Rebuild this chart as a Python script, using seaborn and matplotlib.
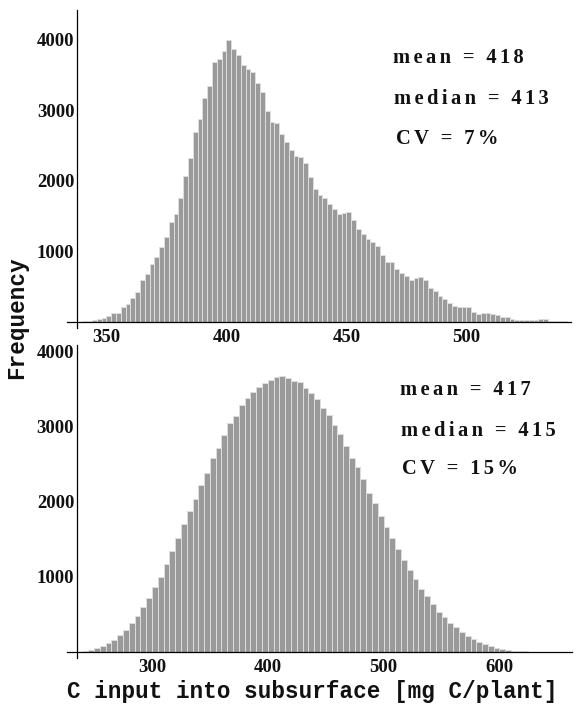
import numpy as np
import pandas as pd
import matplotlib
matplotlib.use("Agg")
import matplotlib.pyplot as plt
import seaborn as sns
from matplotlib.ticker import FixedLocator, MultipleLocator

# ---------------- data ----------------
# Top histogram: bins of width 2 starting at 340
top_bin_start = 340
top_bin_width = 2
top_counts = [5, 12, 29, 43, 52, 81, 119, 124, 205, 248,
              333, 424, 586, 676, 824, 914, 1062, 1205, 1419, 1533,
              1748, 2062, 2319, 2690, 2876, 3176, 3348, 3690, 3733, 3833,
              3990, 3867, 3790, 3648, 3590, 3548, 3381, 3262, 2990, 2833,
              2819, 2667, 2548, 2438, 2348, 2329, 2257, 2048, 1881, 1795,
              1748, 1676, 1600, 1533, 1543, 1562, 1443, 1314, 1248, 1176,
              1133, 1076, 943, 843, 848, 748, 686, 648, 590, 619,
              633, 590, 476, 429, 371, 315, 271, 219, 214, 214,
              214, 143, 105, 119, 124, 114, 95, 67, 62, 43,
              24, 24, 24, 24, 24, 33, 33, 14, 10, 10, 5]
top_stats = ["mean = 418", "median = 413", "CV = 7%"]
top_xticks = [350, 400, 450, 500]

# Bottom histogram: bins of width 5 starting at 240
bot_bin_start = 240
bot_bin_width = 5
bot_counts = [18, 31, 53, 84, 120, 164, 222, 293, 382, 476,
              600, 724, 867, 1004, 1178, 1347, 1520, 1702, 1880, 2044,
              2231, 2391, 2582, 2720, 2893, 3049, 3142, 3289, 3387, 3471,
              3533, 3591, 3631, 3667, 3680, 3653, 3618, 3595, 3515, 3449,
              3378, 3253, 3155, 3026, 2902, 2742, 2591, 2462, 2311, 2115,
              1982, 1813, 1662, 1515, 1369, 1227, 1093, 973, 844, 742,
              636, 538, 462, 387, 329, 267, 213, 169, 129, 102,
              76, 58, 36, 27, 18, 13, 9, 5]
bot_stats = ["mean = 417", "median = 415", "CV = 15%"]
bot_xticks = [300, 400, 500, 600]

yticks = [1000, 2000, 3000, 4000]
xlabel = "C input into subsurface [mg C/plant]"
ylabel = "Frequency"

# ---------------- style ----------------
sns.set_theme(style="white")
plt.rcParams["font.family"] = ["Liberation Serif", "DejaVu Serif"]
plt.rcParams["font.weight"] = "bold"

W, H = 577, 706
fig = plt.figure(figsize=(W / 100, H / 100), dpi=100)


def add_ax(l, t, r, b):
    return fig.add_axes([l / W, 1 - b / H, (r - l) / W, (b - t) / H])


def track(s):
    return "\u2006".join(s)


def draw(ax, start, width, counts, xlim, ylim, yaxis_x, xmajor, xminor):
    n = len(counts)
    edges = [float(start + width * i) for i in range(n + 1)]
    df = pd.DataFrame({"center": [e + width / 2 for e in edges[:-1]],
                       "count": np.asarray(counts, dtype=float)})
    sns.histplot(data=df, x="center", weights="count", bins=edges, ax=ax,
                 color="#9a9a9a", edgecolor="#dedede", linewidth=0.7,
                 alpha=1, stat="count")
    ax.set_xlim(*xlim)
    ax.set_ylim(*ylim)
    ax.patch.set_alpha(0)
    for s in ("top", "right"):
        ax.spines[s].set_visible(False)
    ax.spines["left"].set_position(("data", yaxis_x))
    ax.spines["bottom"].set_position(("data", 0))
    for s in ("left", "bottom"):
        ax.spines[s].set_color("black")
        ax.spines[s].set_linewidth(0.9)
    ax.xaxis.set_major_locator(FixedLocator(xmajor))
    ax.xaxis.set_minor_locator(MultipleLocator(xminor))
    ax.yaxis.set_major_locator(FixedLocator(yticks))
    ax.yaxis.set_minor_locator(MultipleLocator(200))
    ax.tick_params(which="both", direction="in", color="black", width=0.8)
    ax.tick_params(which="major", length=5)
    ax.tick_params(which="minor", length=3.5)
    ax.tick_params(axis="x", which="major", pad=5, labelsize=13.5)
    ax.tick_params(axis="y", which="major", pad=2, labelsize=13.5)
    ax.set_xlabel("")
    ax.set_ylabel("")
    for lab in ax.get_xticklabels() + ax.get_yticklabels():
        lab.set_fontweight("bold")
        lab.set_color("#111111")


ax1 = add_ax(66.7, 10.1, 571, 328.3)
draw(ax1, top_bin_start, top_bin_width, top_counts,
     (333.5, 543.6), (-94, 4420), 337.9, top_xticks, 10)

ax2 = add_ax(66.7, 345, 572, 658.3)
draw(ax2, bot_bin_start, bot_bin_width, bot_counts,
     (226.4, 662.6), (-84, 4093), 235.3, bot_xticks, 20)

# stats annotations
for txt, (x, y) in zip(top_stats, [(393, 63), (394, 104), (396, 144)]):
    fig.text(x / W, 1 - y / H, track(txt), ha="left", va="baseline",
             fontsize=14.8, fontweight="bold", color="#111111")
for txt, (x, y) in zip(bot_stats, [(400, 395), (400.7, 436), (401.7, 474)]):
    fig.text(x / W, 1 - y / H, track(txt), ha="left", va="baseline",
             fontsize=14.8, fontweight="bold", color="#111111")

fig.text(17 / W, 1 - 318 / H, ylabel, rotation=90, ha="center", va="center",
         family=["Liberation Mono", "DejaVu Sans Mono"], fontweight="bold",
         fontsize=16.3, color="#111111")
fig.text(312 / W, 1 - 698 / H, xlabel, ha="center", va="baseline",
         family=["Liberation Mono", "DejaVu Sans Mono"], fontweight="bold",
         fontsize=16.3, color="#111111")

fig.savefig("out.png", dpi=100, facecolor="white")
